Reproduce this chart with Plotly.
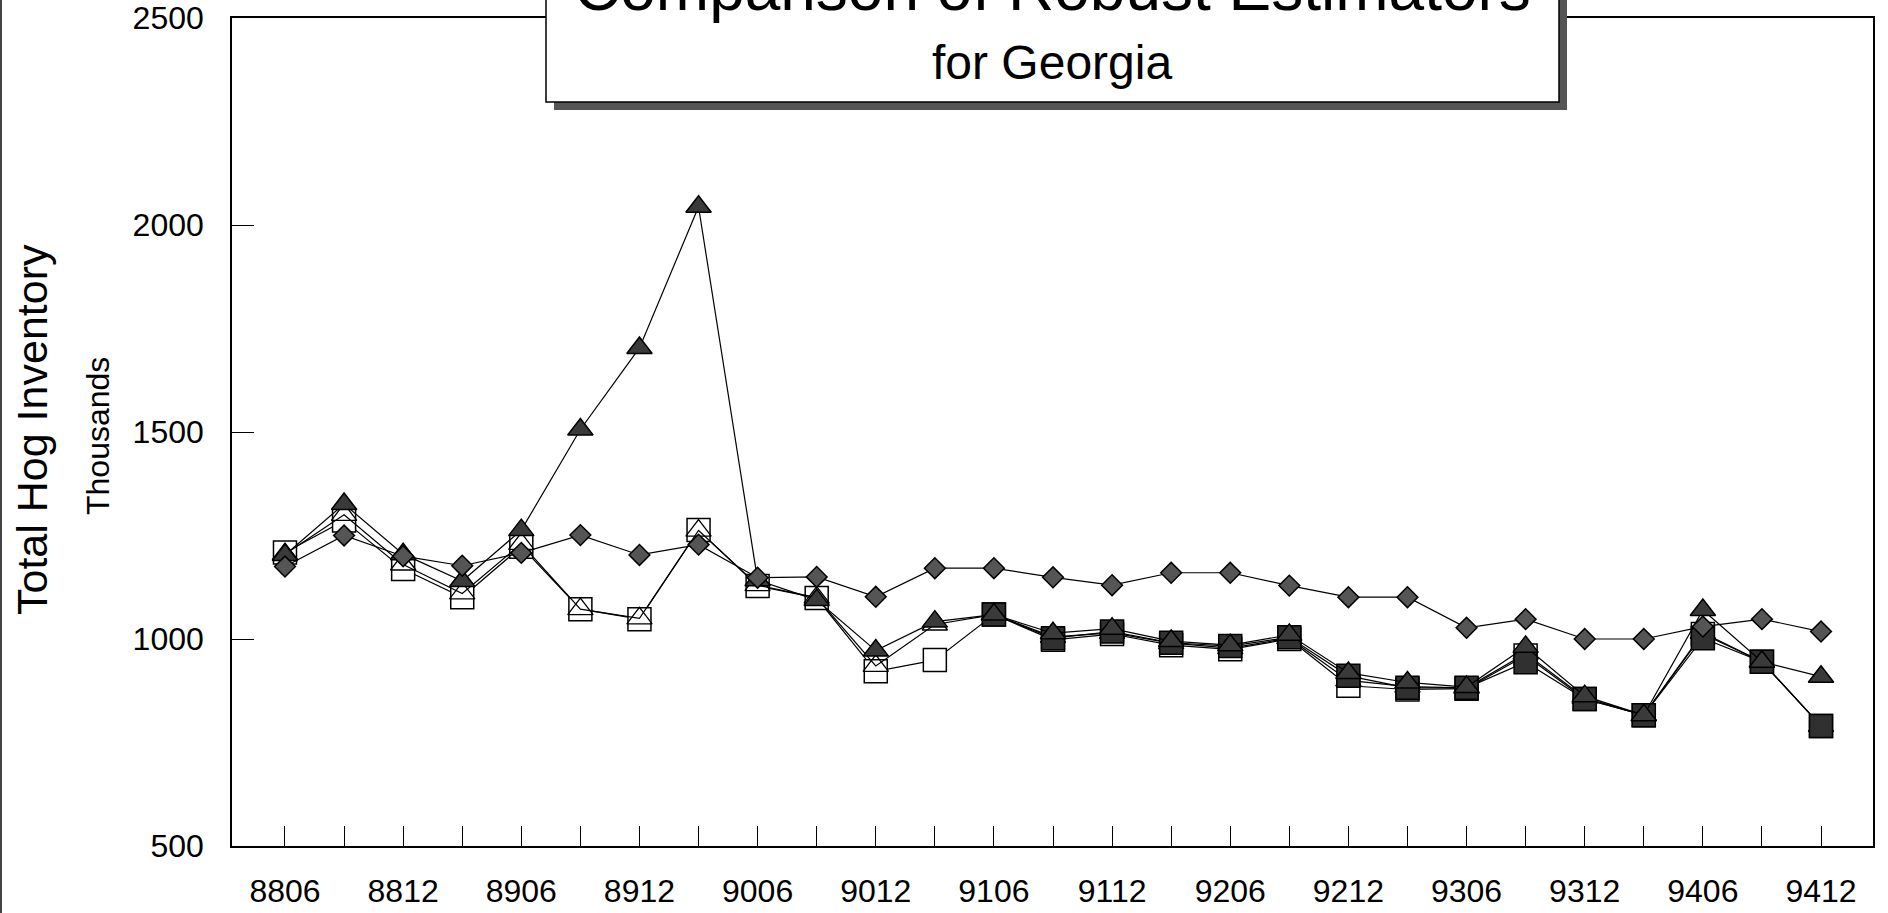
import plotly.graph_objects as go

categories = ["8806", "8809", "8812", "8903", "8906", "8909", "8912", "9003", "9006",
              "9009", "9012", "9103", "9106", "9109", "9112", "9203", "9206", "9209",
              "9212", "9303", "9306", "9309", "9312", "9403", "9406", "9409", "9412"]

diamond_vals = [1175, 1250, 1200, 1177, 1208, 1251, 1203, 1228, 1148, 1150, 1102, 1171, 1171,
                1149, 1130, 1160, 1160, 1129, 1101, 1101, 1027, 1048, 1000, 1000, 1030, 1048, 1018]
tri_filled_vals = [1203, 1326, 1205, 1140, 1263, 1506, 1703, 2044, 1142, 1094, 972, 1042, 1059,
                   1014, 1025, 995, 985, 1010, 918, 895, 884, 981, 862, 816, 1070, 945, 909]
sq_open_vals = [1209, 1286, 1169, 1101, 1223, 1072, 1048, 1263, 1128, 1099, 922, 949, 1059,
                998, 1012, 985, 975, 1000, 887, 878, 880, 960, 855, 816, 1012, 945, 790]
tri_open_vals = [1205, 1300, 1180, 1110, 1230, 1072, 1050, 1262, 1130, 1100, 935, 1035, 1059,
                 1005, 1015, 990, 978, 1002, 900, 885, 882, 965, 858, 816, 1015, 945, 790]
sq_filled_vals = [None, None, None, None, None, None, None, None, None, None, None, None, 1059,
                  1002, 1018, 991, 983, 1004, 911, 882, 882, 944, 855, 816, 1002, 945, 790]

y_ticks = [500, 1000, 1500, 2000, 2500]
x_ticktext = [c if i % 2 == 0 else "" for i, c in enumerate(categories)]

W, H = 1888, 913
L, R, T, B = 232, 1873, 18, 846


def px_x(p):
    return (p - L) / (R - L)


def px_y(p):
    return (B - p) / (B - T)


FONT = "Arial, Liberation Sans, sans-serif"
LINE = dict(color="black", width=1.2)

fig = go.Figure()
fig.add_trace(go.Scatter(x=categories, y=sq_open_vals, mode="lines+markers", line=LINE,
                         marker=dict(symbol="square", size=23, color="white",
                                     line=dict(color="black", width=1.5)), name="open square"))
fig.add_trace(go.Scatter(x=categories, y=tri_open_vals, mode="lines+markers", line=LINE,
                         marker=dict(symbol="triangle-up-open", size=22, color="black",
                                     line=dict(color="black", width=1.3)), name="open triangle"))
fig.add_trace(go.Scatter(x=categories, y=sq_filled_vals, mode="lines+markers", line=LINE,
                         connectgaps=False,
                         marker=dict(symbol="square", size=23, color="#303030",
                                     line=dict(color="black", width=1.5)), name="filled square"))
fig.add_trace(go.Scatter(x=categories, y=tri_filled_vals, mode="lines+markers", line=LINE,
                         marker=dict(symbol="triangle-up", size=22, color="#3a3a3a",
                                     line=dict(color="black", width=1.5)), name="filled triangle"))
fig.add_trace(go.Scatter(x=categories, y=diamond_vals, mode="lines+markers", line=LINE,
                         marker=dict(symbol="diamond", size=16, color="#555555",
                                     line=dict(color="black", width=1.5)), name="diamond"))

fig.update_layout(
    width=W, height=H,
    margin=dict(l=L, r=W - R, t=T, b=H - B, autoexpand=False),
    paper_bgcolor="white", plot_bgcolor="white",
    showlegend=False,
    font=dict(family=FONT, size=32, color="black"),
    xaxis=dict(type="category", range=[-0.897, 26.88], tickmode="array",
               tickvals=categories, ticktext=x_ticktext, ticks="inside", ticklen=20,
               tickwidth=1.2, tickcolor="black", showline=True, linecolor="black",
               linewidth=1.6, mirror=True, showgrid=False, zeroline=False,
               automargin=False, ticklabelstandoff=16, tickfont=dict(size=32)),
    yaxis=dict(range=[500, 2500], tickmode="array", tickvals=y_ticks,
               ticks="inside", ticklen=22, tickwidth=1.2, tickcolor="black",
               showline=True, linecolor="black", linewidth=1.6, mirror=True,
               showgrid=False, zeroline=False, automargin=False, ticklabelstandoff=20,
               tickfont=dict(size=32)),
    shapes=[
        dict(type="rect", xref="paper", yref="paper", layer="above",
             x0=px_x(554), x1=px_x(1567), y0=px_y(110), y1=px_y(-20),
             fillcolor="#555555", line=dict(width=0)),
        dict(type="rect", xref="paper", yref="paper", layer="above",
             x0=px_x(546), x1=px_x(1559), y0=px_y(102), y1=px_y(-20),
             fillcolor="white", line=dict(color="black", width=1.5)),
        dict(type="line", xref="paper", yref="paper", layer="above",
             x0=px_x(1), x1=px_x(1), y0=px_y(913), y1=px_y(0),
             line=dict(color="#444444", width=2)),
    ],
    annotations=[
        dict(text="Comparison of Robust Estimators", xref="paper", yref="paper",
             x=px_x(1052), y=px_y(-12), xanchor="center", yanchor="middle",
             showarrow=False, font=dict(family=FONT, size=64, color="black")),
        dict(text="for Georgia", xref="paper", yref="paper",
             x=px_x(1052), y=px_y(62), xanchor="center", yanchor="middle",
             showarrow=False, font=dict(family=FONT, size=48, color="black")),
        dict(text="Total Hog Inventory", xref="paper", yref="paper",
             x=px_x(32), y=px_y(430), xanchor="center", yanchor="middle",
             textangle=-90, showarrow=False, font=dict(family=FONT, size=43, color="black")),
        dict(text="Thousands", xref="paper", yref="paper",
             x=px_x(98), y=px_y(436), xanchor="center", yanchor="middle",
             textangle=-90, showarrow=False, font=dict(family=FONT, size=32, color="black")),
    ],
)

fig.write_html("out.html")
